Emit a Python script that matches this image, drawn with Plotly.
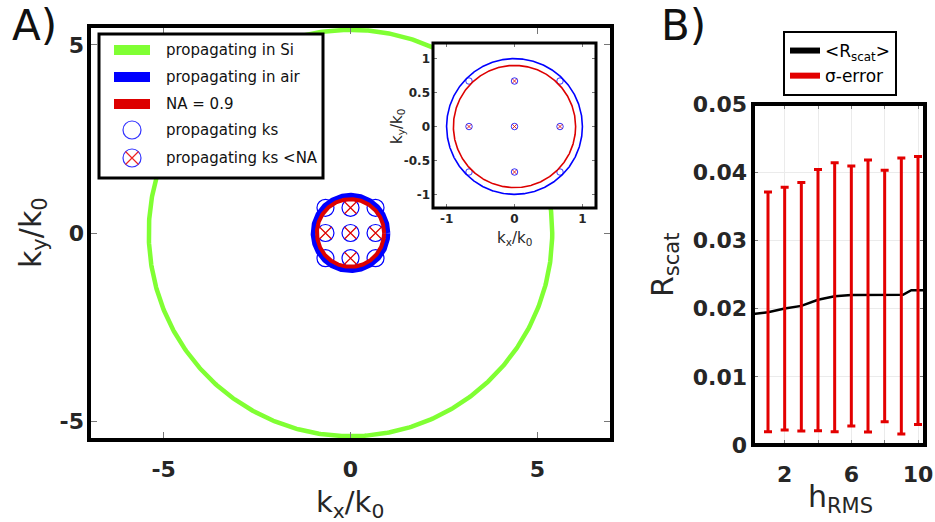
import numpy as np
import plotly.graph_objects as go

W, H = 935, 522
FONT = "DejaVu Sans"
TXT = "#262626"

# ---------------- Panel A data ----------------
radius_si = 5.4          # propagating in Si
radius_air = 1.0         # propagating in air
numerical_aperture = 0.9 # NA
ks_x = [-0.67, 0.0, 0.67, -0.67, 0.0, 0.67, -0.67, 0.0, 0.67]
ks_y = [0.67, 0.67, 0.67, 0.0, 0.0, 0.0, -0.67, -0.67, -0.67]
a_ticks = [-5, 0, 5]
a_ticktext = ["-5", "0", "5"]
inset_xticks = [-1, 0, 1]
inset_xtext = ["-1", "0", "1"]
inset_yticks = [-1, -0.5, 0, 0.5, 1]
inset_ytext = ["-1", "-0.5", "0", "0.5", "1"]
legend_a_labels = ["propagating in Si", "propagating in air", "NA = 0.9",
                   "propagating ks", "propagating ks &lt;NA"]

# ---------------- Panel B data ----------------
h_rms = [1, 2, 3, 4, 5, 6, 7, 8, 9, 10]
r_mean = [0.01946, 0.0200, 0.0204, 0.0213, 0.0218, 0.0220, 0.0220, 0.0220, 0.0220, 0.0227]
r_upper = [0.0371, 0.0378, 0.0385, 0.0404, 0.0414, 0.0409, 0.0418, 0.0403, 0.0421, 0.0423]
r_lower = [0.00196, 0.0022, 0.00205, 0.0021, 0.00196, 0.0028, 0.0019, 0.0034, 0.0016, 0.0030]
curve_h = [0.1, 1, 2, 3, 4, 5, 6, 7, 8, 9, 9.1, 9.6, 10, 10.42]
curve_r = [0.0192, 0.01946, 0.0200, 0.0204, 0.0213, 0.0218, 0.0220, 0.0220, 0.0220, 0.0220,
           0.02202, 0.0227, 0.0227, 0.0227]
b_xticks = [2, 4, 6, 8, 10]
b_xtext = ["2", "", "6", "", "10"]
b_yticks = [0, 0.01, 0.02, 0.03, 0.04, 0.05]
b_ytext = ["0", "0.01", "0.02", "0.03", "0.04", "0.05"]
legend_b_labels = ["&lt;R<sub>scat</sub>&gt;", "σ-error"]

GREEN = "#80ff33"
BLUE = "#0000ff"
RED = "#dd0000"
ERR_RED = "#e30000"


def dom_x(a, b):
    return [a / W, b / W]


def dom_y(top, bottom):
    return [1 - bottom / H, 1 - top / H]


theta = np.linspace(0, 2 * np.pi, 721)


def ring(r):
    return r * np.cos(theta), r * np.sin(theta)


na_pts = [(x, y) for x, y in zip(ks_x, ks_y) if np.hypot(x, y) < numerical_aperture]
na_x = [p[0] for p in na_pts]
na_y = [p[1] for p in na_pts]

fig = go.Figure()


def add_k_space(xa, ya, big):
    if big:
        sx, sy = ring(radius_si)
        fig.add_trace(go.Scatter(x=sx, y=sy, mode="lines", line=dict(color=GREEN, width=4.5),
                                 xaxis=xa, yaxis=ya, showlegend=False, hoverinfo="skip"))
    fig.add_trace(go.Scatter(x=ks_x, y=ks_y, mode="markers",
                             marker=dict(symbol="circle-open", size=17 if big else 6.5, color=BLUE,
                                         line=dict(width=1.2 if big else 0.8, color=BLUE)),
                             xaxis=xa, yaxis=ya, showlegend=False, hoverinfo="skip"))
    fig.add_trace(go.Scatter(x=na_x, y=na_y, mode="markers",
                             marker=dict(symbol="x-thin-open", size=12 if big else 4.5, color=RED,
                                         line=dict(width=1.2 if big else 0.8, color=RED)),
                             xaxis=xa, yaxis=ya, showlegend=False, hoverinfo="skip"))
    ax_, ay_ = ring(radius_air)
    fig.add_trace(go.Scatter(x=ax_, y=ay_, mode="lines", line=dict(color=BLUE, width=5 if big else 1.6),
                             xaxis=xa, yaxis=ya, showlegend=False, hoverinfo="skip"))
    nx_, ny_ = ring(numerical_aperture)
    fig.add_trace(go.Scatter(x=nx_, y=ny_, mode="lines", line=dict(color=RED, width=4 if big else 1.6),
                             xaxis=xa, yaxis=ya, showlegend=False, hoverinfo="skip"))


add_k_space("x", "y", True)
add_k_space("x2", "y2", False)

# ---- manual legend for panel A (own overlay axes, pixel-like units) ----
row_y = [16, 43, 70, 96, 124]
line_cols = [GREEN, BLUE, RED]
for yy, col in zip(row_y[:3], line_cols):
    fig.add_trace(go.Scatter(x=[15, 51], y=[yy, yy], mode="lines", line=dict(color=col, width=10),
                             xaxis="x3", yaxis="y3", showlegend=False, hoverinfo="skip"))
fig.add_trace(go.Scatter(x=[33, 33], y=row_y[3:], mode="markers",
                         marker=dict(symbol="circle-open", size=18, color="#3333ff",
                                     line=dict(width=1.2, color="#3333ff")),
                         xaxis="x3", yaxis="y3", showlegend=False, hoverinfo="skip"))
fig.add_trace(go.Scatter(x=[33], y=[row_y[4]], mode="markers",
                         marker=dict(symbol="x-thin-open", size=13, color="#ee2222",
                                     line=dict(width=1.2, color="#ee2222")),
                         xaxis="x3", yaxis="y3", showlegend=False, hoverinfo="skip"))

# ---------------- Panel B traces ----------------
fig.add_trace(go.Scatter(x=curve_h, y=curve_r, mode="lines", line=dict(color="black", width=2.5),
                         xaxis="x4", yaxis="y4", showlegend=False, hoverinfo="skip"))
err_plus = [u - m for u, m in zip(r_upper, r_mean)]
err_minus = [m - l for m, l in zip(r_mean, r_lower)]
fig.add_trace(go.Scatter(x=h_rms, y=r_mean, mode="markers",
                         marker=dict(size=1, color="rgba(0,0,0,0)"),
                         error_y=dict(type="data", symmetric=False, array=err_plus, arrayminus=err_minus,
                                      color=ERR_RED, thickness=3, width=4),
                         xaxis="x4", yaxis="y4", showlegend=False, hoverinfo="skip"))
# legend entries for panel B
fig.add_trace(go.Scatter(x=[None], y=[None], mode="lines", line=dict(color="black", width=6),
                         name=legend_b_labels[0], xaxis="x4", yaxis="y4"))
fig.add_trace(go.Scatter(x=[None], y=[None], mode="lines", line=dict(color=ERR_RED, width=6),
                         name=legend_b_labels[1], xaxis="x4", yaxis="y4"))

tickfont_big = dict(family=FONT, size=22, color=TXT, weight="bold")
tickfont_small = dict(family=FONT, size=12, color=TXT, weight="bold")

common = dict(showgrid=False, zeroline=False, showline=False, ticks="inside", mirror="ticks",
              tickcolor="#777777", tickwidth=1, fixedrange=True)

fig.update_layout(
    width=W, height=H, margin=dict(l=0, r=0, t=0, b=0),
    template="none", paper_bgcolor="white", plot_bgcolor="white",
    font=dict(family=FONT, color=TXT),
    xaxis=dict(domain=dom_x(89, 612), range=[-7, 7], anchor="y", tickvals=a_ticks, ticktext=a_ticktext,
               ticklen=8, tickfont=tickfont_big, ticklabelstandoff=14, **common),
    yaxis=dict(domain=dom_y(26, 440), range=[-5.5, 5.5], anchor="x", tickvals=a_ticks, ticktext=a_ticktext,
               ticklen=8, tickfont=tickfont_big, ticklabelstandoff=4, **common),
    xaxis2=dict(domain=dom_x(433, 596), range=[-1.2, 1.2], anchor="y2", tickvals=inset_xticks,
                ticktext=inset_xtext, ticklen=4, tickfont=tickfont_small, ticklabelstandoff=2, **common),
    yaxis2=dict(domain=dom_y(43, 208), range=[-1.2, 1.23], anchor="x2", tickvals=inset_yticks,
                ticktext=inset_ytext, ticklen=4, tickfont=tickfont_small, ticklabelstandoff=2, **common),
    xaxis3=dict(domain=dom_x(99, 323), range=[0, 224], anchor="y3", visible=False, fixedrange=True),
    yaxis3=dict(domain=dom_y(34, 178), range=[144, 0], anchor="x3", visible=False, fixedrange=True),
    xaxis4=dict(domain=dom_x(753, 925), range=[0.1, 10.42], anchor="y4", tickvals=b_xticks, ticktext=b_xtext,
                ticklen=5, tickfont=tickfont_big, ticklabelstandoff=14,
                **{**common, "showgrid": True}, gridcolor="#ebebeb"),
    yaxis4=dict(domain=dom_y(104, 445), range=[0, 0.05], anchor="x4", tickvals=b_yticks, ticktext=b_ytext,
                ticklen=5, tickfont=tickfont_big, ticklabelstandoff=5,
                **{**common, "showgrid": True}, gridcolor="#ebebeb"),
    showlegend=True,
    legend=dict(x=783 / W, y=1 - 31 / H, xanchor="left", yanchor="top", bgcolor="white",
                bordercolor="black", borderwidth=2, itemwidth=30,
                font=dict(family=FONT, size=17, color="black")),
)

frames = [("x", "y", 4), ("x2", "y2", 3), ("x3", "y3", 3), ("x4", "y4", 4)]
shapes = []
for xr, yr, lw in frames:
    shapes.append(dict(type="rect", xref=f"{xr} domain", yref=f"{yr} domain", x0=0, x1=1, y0=0, y1=1,
                       line=dict(color="black", width=lw), layer="above"))
fig.update_layout(shapes=shapes)

ann = []


def add_text(text, px, py, size, xanchor="center", yanchor="middle", angle=0, xref="paper", yref="paper",
             color=TXT):
    if xref == "paper":
        xx, yy = px / W, 1 - py / H
    else:
        xx, yy = px, py
    ann.append(dict(text=text, x=xx, y=yy, xref=xref, yref=yref, xanchor=xanchor, yanchor=yanchor,
                    textangle=angle, showarrow=False, font=dict(family=FONT, size=size, color=color)))


add_text("A)", 34, 26, 42, color="#111111")
add_text("B)", 683, 26, 42, color="#111111")
add_text("k<sub>x</sub>/k<sub>0</sub>", 350, 483, 29, yanchor="top")
add_text("k<sub>y</sub>/k<sub>0</sub>", 32, 233, 30, angle=-90)
add_text("h<sub>RMS</sub>", 840, 477, 30, yanchor="top")
add_text("R<sub>scat</sub>", 664, 265, 30, angle=-90)
add_text("k<sub>x</sub>/k<sub>0</sub>", 514, 238, 15)
add_text("k<sub>y</sub>/k<sub>0</sub>", 397, 127, 15, angle=-90)
for lbl, yy in zip(legend_a_labels, row_y):
    add_text(lbl, 65, yy, 15, xanchor="left", xref="x3", yref="y3", color="#111111")
fig.update_layout(annotations=ann)

fig.write_html("out.html", config={"displayModeBar": False},
               post_script="document.body.style.margin='0px';document.body.style.overflow='hidden';")
